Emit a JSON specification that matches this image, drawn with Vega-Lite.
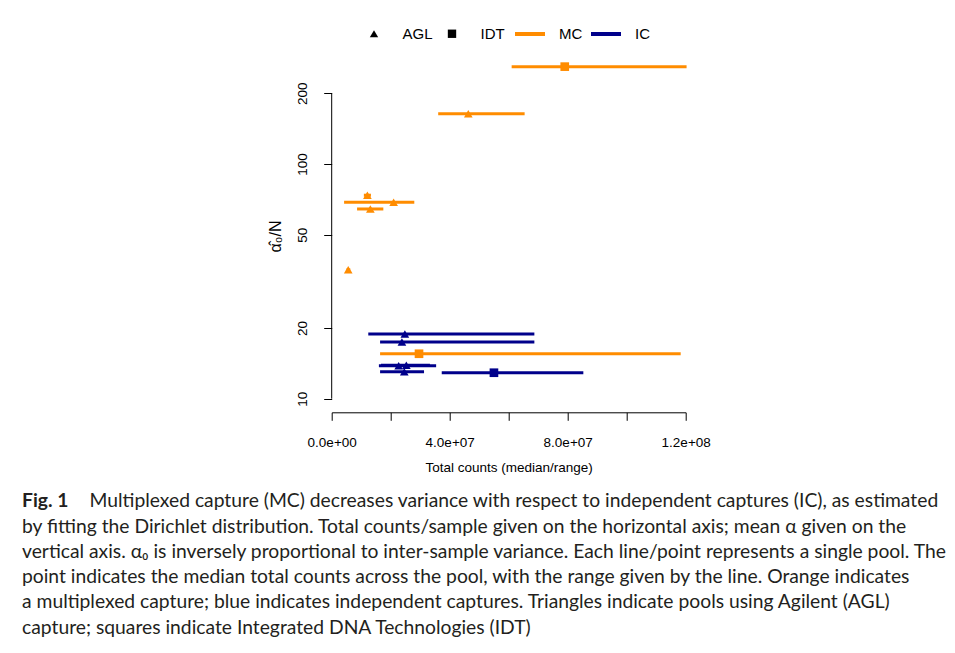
{
  "$schema": "https://vega.github.io/schema/vega-lite/v6.json",
  "width": 354,
  "height": 353.3,
  "autosize": {"type": "none"},
  "padding": {"left": 331.7, "top": 59, "right": 269.3, "bottom": 240.7},
  "background": "white",
  "config": {
    "view": {"stroke": null},
    "font": "Liberation Sans",
    "axis": {
      "grid": false, "domainColor": "black", "tickColor": "black",
      "labelColor": "black", "titleColor": "black",
      "labelFont": "Liberation Sans", "titleFont": "Liberation Sans",
      "labelFontSize": 13.5, "titleFontSize": 13.5, "titleFontWeight": "normal",
      "tickSize": 8, "domainWidth": 1, "tickWidth": 1
    }
  },
  "title": {
    "text": "Fig. 1",
    "subtitle": [
      "\u200b\u2003\u2003\u2003\u2003\u2002Multiplexed capture (MC) decreases variance with respect to independent captures (IC), as estimated",
      "by fitting the Dirichlet distribution. Total counts/sample given on the horizontal axis; mean α given on the",
      "vertical axis. α₀ is inversely proportional to inter-sample variance. Each line/point represents a single pool. The",
      "point indicates the median total counts across the pool, with the range given by the line. Orange indicates",
      "a multiplexed capture; blue indicates independent captures. Triangles indicate pools using Agilent (AGL)",
      "capture; squares indicate Integrated DNA Technologies (IDT)"
    ],
    "orient": "bottom", "anchor": "start", "frame": "group",
    "dx": -309.7, "offset": 18,
    "font": "Lato", "fontSize": 19.3, "fontWeight": "bold", "color": "#231f20",
    "subtitleFont": "Lato", "subtitleFontSize": 19.3, "subtitleColor": "#231f20",
    "subtitleLineHeight": 25.3, "subtitlePadding": -19.3
  },
  "data": {
    "values": [
      {"capture": "MC", "platform": "IDT", "alpha": 259.8, "min": 61000000, "median": 79000000, "max": 120300000},
      {"capture": "MC", "platform": "AGL", "alpha": 163.8, "min": 36100000, "median": 46300000, "max": 65400000},
      {"capture": "MC", "platform": "AGL", "alpha": 73.6, "min": 10900000, "median": 12100000, "max": 13300000},
      {"capture": "MC", "platform": "AGL", "alpha": 68.7, "min": 4200000, "median": 21000000, "max": 28000000},
      {"capture": "MC", "platform": "AGL", "alpha": 64.3, "min": 8600000, "median": 13100000, "max": 17500000},
      {"capture": "MC", "platform": "AGL", "alpha": 35.4, "min": 5000000, "median": 5600000, "max": 6300000},
      {"capture": "MC", "platform": "IDT", "alpha": 15.54, "min": 16400000, "median": 29600000, "max": 118300000},
      {"capture": "IC", "platform": "AGL", "alpha": 18.87, "min": 12400000, "median": 24800000, "max": 68700000},
      {"capture": "IC", "platform": "AGL", "alpha": 17.45, "min": 16400000, "median": 23800000, "max": 68700000},
      {"capture": "IC", "platform": "AGL", "alpha": 13.82, "min": 16000000, "median": 22700000, "max": 35400000},
      {"capture": "IC", "platform": "AGL", "alpha": 13.87, "min": 16700000, "median": 25300000, "max": 33300000},
      {"capture": "IC", "platform": "AGL", "alpha": 13.03, "min": 16400000, "median": 24600000, "max": 31300000},
      {"capture": "IC", "platform": "IDT", "alpha": 12.9, "min": 37300000, "median": 55000000, "max": 85300000}
    ]
  },
  "layer": [
    {
      "mark": {"type": "rule", "strokeWidth": 3},
      "encoding": {
        "x": {
          "field": "min", "type": "quantitative", "title": "Total counts (median/range)",
          "scale": {"domain": [0, 120000000], "nice": false, "zero": false},
          "axis": {
            "values": [0, 20000000, 40000000, 60000000, 80000000, 100000000, 120000000],
            "labelExpr": "datum.value == 0 ? '0.0e+00' : datum.value == 40000000 ? '4.0e+07' : datum.value == 80000000 ? '8.0e+07' : datum.value == 120000000 ? '1.2e+08' : ''",
            "labelOverlap": false, "labelFlush": false, "labelPadding": 15, "titlePadding": 12
          }
        },
        "x2": {"field": "max"},
        "y": {
          "field": "alpha", "type": "quantitative", "title": "α̂₀/N",
          "scale": {"type": "log", "domain": [8.75, 280], "nice": false},
          "axis": {
            "values": [10, 20, 50, 100, 200], "domain": false,
            "labelAngle": -90, "labelAlign": "center", "labelBaseline": "bottom", "labelPadding": 14,
            "titleAngle": -90, "titleX": -56.7, "titleY": 177, "titleAlign": "center", "titleBaseline": "middle",
            "titleFontSize": 16
          }
        },
        "color": {
          "field": "capture", "type": "nominal",
          "scale": {"domain": ["MC", "IC"], "range": ["#ff8c00", "#00008b"]},
          "legend": {
            "orient": "none", "legendX": 181.3, "legendY": -42, "direction": "horizontal", "title": null,
            "symbolType": "stroke", "symbolSize": 900, "symbolStrokeWidth": 4,
            "labelFontSize": 15, "labelOffset": 12, "columnPadding": 0, "padding": 0,
            "labelFont": "Liberation Sans", "labelColor": "black",
            "encode": {"symbols": {"update": {"stroke": {"scale": "color", "field": "value"}, "strokeWidth": {"value": 4}}}}
          }
        }
      }
    },
    {
      "mark": {"type": "point", "filled": true, "opacity": 1, "size": 75},
      "encoding": {
        "x": {"field": "median", "type": "quantitative", "title": "Total counts (median/range)"},
        "y": {"field": "alpha", "type": "quantitative", "title": "α̂₀/N"},
        "color": {"field": "capture", "type": "nominal"},
        "shape": {
          "field": "platform", "type": "nominal",
          "scale": {"domain": ["AGL", "IDT"], "range": ["triangle-up", "square"]},
          "legend": {
            "orient": "none", "legendX": 34.8, "legendY": -33, "direction": "horizontal", "title": null,
            "symbolSize": 70, "symbolFillColor": "black", "symbolStrokeWidth": 0,
            "labelFontSize": 15, "labelOffset": 21, "columnPadding": 11, "padding": 0,
            "labelFont": "Liberation Sans", "labelColor": "black",
            "encode": {"symbols": {"update": {"fill": {"value": "black"}, "stroke": {"value": "black"}, "strokeWidth": {"value": 0}}}}
          }
        }
      }
    },
    {
      "data": {"values": [{"median": 0, "alpha": 10, "alpha2": 200}]},
      "mark": {"type": "rule", "color": "black", "strokeWidth": 1},
      "encoding": {
        "x": {"field": "median", "type": "quantitative", "title": "Total counts (median/range)"},
        "y": {"field": "alpha", "type": "quantitative", "title": "α̂₀/N"},
        "y2": {"field": "alpha2"}
      }
    }
  ]
}
